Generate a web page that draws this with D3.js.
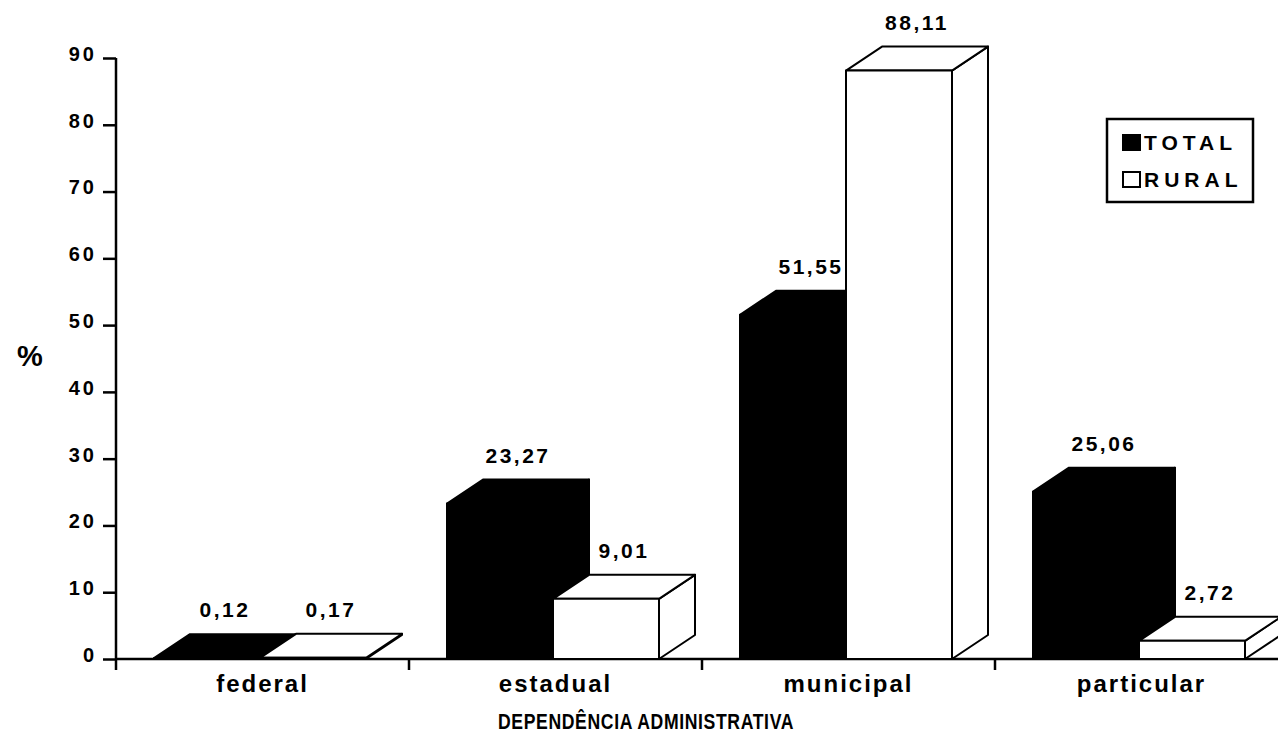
<!DOCTYPE html>
<html>
<head>
<meta charset="utf-8">
<script src="https://cdn.jsdelivr.net/npm/d3@7"></script>
<style>
  html, body { margin: 0; padding: 0; background: #fff; }
  svg { display: block; }
  text { font-family: "Liberation Sans", Arial, sans-serif; font-weight: bold; fill: #000; }
</style>
</head>
<body>
<script>
const categories = ["federal", "estadual", "municipal", "particular"];
const seriesNames = ["TOTAL", "RURAL"];
const totalValues = [0.12, 23.27, 51.55, 25.06];
const ruralValues = [0.17, 9.01, 88.11, 2.72];
const yTicks = [0, 10, 20, 30, 40, 50, 60, 70, 80, 90];
const xTitle = "DEPENDÊNCIA ADMINISTRATIVA";
const yTitle = "%";

const W = 1278, H = 736;
const svg = d3.select("body").append("svg").attr("width", W).attr("height", H);

const y = d3.scaleLinear().domain([0, 90]).range([659, 58]);
const x0 = d3.scaleBand().domain(categories).range([116, 1288]);
const x1 = d3.scaleBand().domain(seriesNames).range([38, 250]);
const DX = 36, DY = 24;

const fmt = v => d3.format(".2f")(v).replace(".", ",");
const FF = "'Liberation Sans', Arial, sans-serif";

// Y axis
const yAxis = d3.axisLeft(y).tickValues(yTicks).tickSize(13).tickPadding(6).tickFormat(d3.format("d"));
const gy = svg.append("g").attr("transform", "translate(116,0)").call(yAxis);
gy.select(".domain").remove();
gy.selectAll(".tick line").attr("stroke", "#000").attr("stroke-width", 2.5);
gy.selectAll(".tick text")
  .attr("dy", "0.12em")
  .style("font-size", "20px").style("letter-spacing", "3px")
  .style("font-family", FF).style("font-weight", "bold");
svg.append("line").attr("x1", 116).attr("x2", 116).attr("y1", y(90)).attr("y2", 670)
  .attr("stroke", "#000").attr("stroke-width", 2.5);

// X axis
svg.append("line").attr("x1", 116).attr("x2", W).attr("y1", y(0)).attr("y2", y(0))
  .attr("stroke", "#000").attr("stroke-width", 2.5);
categories.slice(1).forEach(c => {
  svg.append("line").attr("x1", x0(c)).attr("x2", x0(c)).attr("y1", y(0)).attr("y2", 670)
    .attr("stroke", "#000").attr("stroke-width", 2.5);
});
const xAxis = d3.axisBottom(x0).tickSize(0).tickPadding(16);
const gx = svg.append("g").attr("transform", `translate(0,${y(0)})`).call(xAxis);
gx.select(".domain").remove();
gx.selectAll(".tick text")
  .style("font-size", "24px").style("letter-spacing", "2px")
  .style("font-family", FF).style("font-weight", "bold");

svg.append("text").attr("transform", "translate(646,729) scale(0.8,1)").attr("text-anchor", "middle")
  .style("font-size", "22px").style("letter-spacing", "0.8px").text(xTitle);
svg.append("text").attr("x", 30).attr("y", 366).attr("text-anchor", "middle")
  .style("font-size", "29px").text(yTitle);

// 3D bars
const series = [
  { name: "TOTAL", values: totalValues, fill: "#000" },
  { name: "RURAL", values: ruralValues, fill: "#fff" }
];
const bars = svg.append("g");
categories.forEach((c, i) => {
  series.forEach(s => {
    const v = s.values[i];
    const xl = x0(c) + x1(s.name);
    const xr = xl + x1.bandwidth();
    const yt = y(v), yb = y(0);
    const g = bars.append("g").attr("stroke", "#000").attr("stroke-width", 2).attr("stroke-linejoin", "round").attr("fill", s.fill);
    g.append("path").attr("d", `M${xr},${yb} L${xr + DX},${yb - DY} L${xr + DX},${yt - DY} L${xr},${yt} Z`);
    g.append("path").attr("d", `M${xl},${yt} L${xl + DX},${yt - DY} L${xr + DX},${yt - DY} L${xr},${yt} Z`);
    g.append("path").attr("d", `M${xl},${yb} L${xl},${yt} L${xr},${yt} L${xr},${yb} Z`);
    svg.append("text").attr("x", (xl + xr) / 2 + DX / 2).attr("y", yt - DY - 17)
      .attr("text-anchor", "middle")
      .style("font-size", "21px").style("letter-spacing", "2.5px")
      .text(fmt(v));
  });
});

// Legend
const lg = svg.append("g");
lg.append("rect").attr("x", 1107).attr("y", 119).attr("width", 146).attr("height", 83)
  .attr("fill", "#fff").attr("stroke", "#000").attr("stroke-width", 2.5);
series.forEach((s, k) => {
  const base = 150 + k * 37;
  lg.append("rect").attr("x", 1123).attr("y", base - 15).attr("width", 17).attr("height", 15)
    .attr("fill", s.fill).attr("stroke", "#000").attr("stroke-width", 2);
  lg.append("text").attr("x", 1144).attr("y", base)
    .style("font-size", "21px").style("letter-spacing", "5px").text(s.name);
});
</script>
</body>
</html>
